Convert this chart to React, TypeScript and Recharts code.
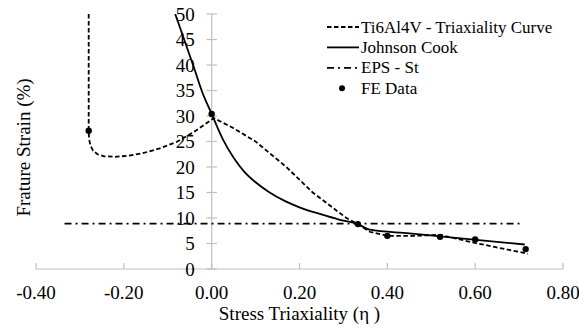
import React from "react";
import {
  LineChart,
  Line,
  XAxis,
  YAxis,
  ReferenceLine,
  ReferenceDot,
  Legend,
} from "recharts";

// values
const triaxCurve = [
  { x: -0.28, y: 50 },
  { x: -0.28, y: 27.1 },
  { x: -0.279, y: 25.4 },
  { x: -0.276, y: 24.2 },
  { x: -0.27, y: 23.2 },
  { x: -0.26, y: 22.5 },
  { x: -0.245, y: 22.1 },
  { x: -0.22, y: 22.0 },
  { x: -0.19, y: 22.2 },
  { x: -0.157, y: 22.7 },
  { x: -0.12, y: 23.6 },
  { x: -0.08, y: 24.9 },
  { x: -0.04, y: 26.9 },
  { x: 0.005, y: 29.6 },
  { x: 0.05, y: 27.6 },
  { x: 0.1, y: 25.0 },
  { x: 0.17, y: 20.0 },
  { x: 0.23, y: 15.0 },
  { x: 0.307, y: 10.0 },
  { x: 0.333, y: 8.8 },
  { x: 0.36, y: 7.3 },
  { x: 0.4, y: 6.5 },
  { x: 0.46, y: 6.5 },
  { x: 0.52, y: 6.7 },
  { x: 0.6, y: 5.1 },
  { x: 0.72, y: 3.0 },
];

const johnsonCook = [
  { x: -0.083, y: 50 },
  { x: -0.061, y: 44.6 },
  { x: -0.04, y: 39.4 },
  { x: -0.022, y: 34.8 },
  { x: 0, y: 30.4 },
  { x: 0.025, y: 25.5 },
  { x: 0.05, y: 21.8 },
  { x: 0.075, y: 19.0 },
  { x: 0.1, y: 17.0 },
  { x: 0.132, y: 15.0 },
  { x: 0.165, y: 13.4 },
  { x: 0.2, y: 12.1 },
  { x: 0.25, y: 10.7 },
  { x: 0.29, y: 9.7 },
  { x: 0.333, y: 8.8 },
  { x: 0.36, y: 7.7 },
  { x: 0.45, y: 7.0 },
  { x: 0.52, y: 6.4 },
  { x: 0.713, y: 4.8 },
];

const epsSt = [
  { x: -0.335, y: 8.9 },
  { x: 0.708, y: 8.9 },
];

const feData = [
  { x: -0.28, y: 27.1 },
  { x: 0, y: 30.4 },
  { x: 0.333, y: 8.8 },
  { x: 0.4, y: 6.5 },
  { x: 0.52, y: 6.3 },
  { x: 0.6, y: 5.8 },
  { x: 0.715, y: 3.9 },
];

const xTicks = [-0.4, -0.2, 0, 0.2, 0.4, 0.6, 0.8];
const yTicks = [0, 5, 10, 15, 20, 25, 30, 35, 40, 45, 50];

const legendItems = [
  { name: "Ti6Al4V - Triaxiality Curve", dash: "4.5 2.5", kind: "line" },
  { name: "Johnson Cook", dash: undefined, kind: "line" },
  { name: "EPS - St", dash: "7 4 2 4", kind: "line" },
  { name: "FE Data", dash: undefined, kind: "dot" },
];

const FONT = "Liberation Serif";
const AXIS_GREY = "#bfbfbf";
const txt = { fontFamily: FONT, fill: "#000" };

const YTitle = (props: any) => {
  const vb = props.viewBox || { x: 0, y: 14, width: 36, height: 255 };
  const cx = vb.x + 23;
  const cy = vb.y + vb.height / 2 + 6;
  return (
    <text
      x={cx}
      y={cy}
      transform={`rotate(-90 ${cx} ${cy})`}
      textAnchor="middle"
      dominantBaseline="central"
      fontSize={19}
      style={txt}
    >
      Frature Strain (%)
    </text>
  );
};

const XTick = (props: any) => {
  const { x, y, payload } = props;
  return (
    <text x={x} y={y} dy="0.71em" textAnchor="middle" fontSize={19} style={txt}>
      {Number(payload.value).toFixed(2)}
    </text>
  );
};

const LegendBox = () => (
  <svg width={250} height={90}>
    {legendItems.map((item, i) => {
      const cy = 15 + i * 20.4;
      return (
        <g key={item.name}>
          {item.kind === "line" ? (
            <line
              x1={7}
              x2={39}
              y1={cy}
              y2={cy}
              stroke="#000"
              strokeWidth={1.8}
              strokeDasharray={item.dash}
            />
          ) : (
            <circle cx={22} cy={cy} r={3} fill="#000" />
          )}
          <text x={41} y={cy} dominantBaseline="central" fontSize={17} style={txt}>
            {item.name}
          </text>
        </g>
      );
    })}
  </svg>
);

const FeDot = (props: any) => {
  const { cx, cy } = props;
  if (cx == null || cy == null) return null;
  return <circle cx={cx} cy={cy} r={3.2} fill="#000" />;
};

export default function App() {
  return (
    <div style={{ position: "absolute", left: 0, top: 0, fontFamily: FONT }}>
      <LineChart
        width={579}
        height={329}
        margin={{ top: 14, right: 16, left: 0, bottom: 0 }}
        style={{ fontFamily: FONT, background: "#fff" }}
      >
        <XAxis
          type="number"
          dataKey="x"
          domain={[-0.4, 0.8]}
          ticks={xTicks}
          allowDataOverflow
          height={60}
          stroke={AXIS_GREY}
          strokeWidth={1.2}
          tickSize={-6}
          tickMargin={23}
          tick={<XTick />}
          label={{
            value: "Stress Triaxiality (\u03b7 )",
            position: "insideBottom",
            offset: 9,
            fontSize: 19,
            style: txt,
          }}
        />
        <YAxis
          type="number"
          dataKey="y"
          domain={[0, 50]}
          allowDataOverflow
          width={36}
          tick={false}
          tickLine={false}
          axisLine={false}
          label={{ content: (p: any) => <YTitle {...p} /> }}
        />
        <ReferenceLine x={0} stroke={AXIS_GREY} strokeWidth={1.2} />
        {yTicks.map((t) => (
          <ReferenceLine
            key={`tl${t}`}
            segment={[
              { x: -0.012, y: t },
              { x: 0.012, y: t },
            ]}
            stroke={AXIS_GREY}
            strokeWidth={1.2}
          />
        ))}
        {yTicks.map((t) => (
          <ReferenceDot
            key={`tv${t}`}
            x={0}
            y={t}
            r={0}
            fill="none"
            stroke="none"
            label={{
              value: String(t),
              position: "left",
              offset: 17,
              fontSize: 19,
              style: txt,
            }}
          />
        ))}
        <Line
          data={epsSt}
          dataKey="y"
          type="linear"
          stroke="#000"
          strokeWidth={1.8}
          strokeDasharray="7 4 2 4"
          dot={false}
          activeDot={false}
          isAnimationActive={false}
        />
        <Line
          data={triaxCurve}
          dataKey="y"
          type="linear"
          stroke="#000"
          strokeWidth={1.8}
          strokeDasharray="4.5 2.5"
          dot={false}
          activeDot={false}
          isAnimationActive={false}
        />
        <Line
          data={johnsonCook}
          dataKey="y"
          type="monotone"
          stroke="#000"
          strokeWidth={1.8}
          dot={false}
          activeDot={false}
          isAnimationActive={false}
        />
        <Line
          data={feData}
          dataKey="y"
          type="linear"
          stroke="none"
          dot={<FeDot />}
          activeDot={false}
          isAnimationActive={false}
        />
        <Legend
          layout="horizontal"
          verticalAlign="middle"
          align="center"
          wrapperStyle={{ position: "absolute", left: 320, top: 12, width: 250 }}
          content={() => <LegendBox />}
        />
      </LineChart>
    </div>
  );
}
